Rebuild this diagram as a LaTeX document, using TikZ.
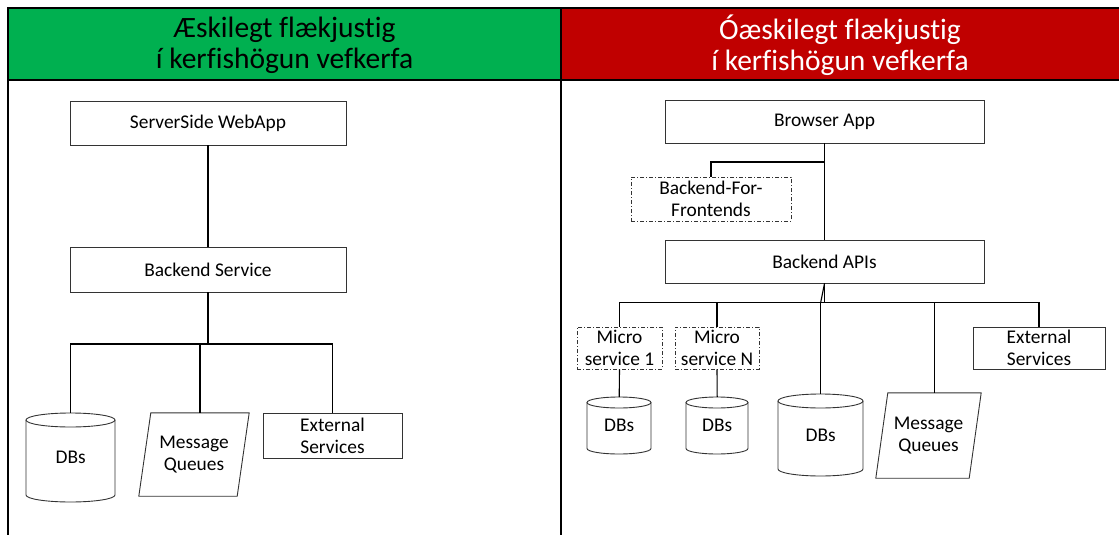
\documentclass[tikz,border=0pt]{standalone}
\usepackage{fontspec}
\setmainfont{Carlito}[Ligatures=NoCommon]
\usetikzlibrary{calc}
\definecolor{hgreen}{HTML}{00B050}
\definecolor{hred}{HTML}{C00000}
\newcommand\boxtextfont{\fontsize{19.4}{22}\selectfont}
\newcommand\bannerfont{\fontsize{29.5}{31}\selectfont}

% database cylinder: name, left, top, width, height, cap radius
\newcommand\dbcyl[6]{%
  \node[plain,minimum width=#4pt,minimum height=#5pt,anchor=north west] (#1) at (#2,#3) {DBs};
  \draw[outline] (#2+#4/2,#3+#6) ellipse [x radius=#4/2,y radius=#6];
  \draw[outline] (#2,#3+#6) -- (#2,#3+#5-#6)
    arc [start angle=180,end angle=0,x radius=#4/2,y radius=#6] -- (#2+#4,#3+#6);
}
% message queue parallelogram: name, centre x, centre y, edge length, height, slant
\newcommand\queue[6]{%
  \node[plain,minimum width=#4pt,minimum height=#5pt] (#1) at (#2,#3) {Message\\Queues};
  \draw[outline] ($(#1.north west)+(#6/2,0)$) -- ($(#1.north east)+(#6/2,0)$)
    -- ($(#1.south east)-(#6/2,0)$) -- ($(#1.south west)-(#6/2,0)$) -- cycle;
}

\begin{document}
\begin{tikzpicture}[x=1pt,y=-1pt,
  frame/.style={line width=2pt,black},
  plain/.style={rectangle,inner sep=0pt,align=center,font=\boxtextfont},
  box/.style={plain,draw=black!80,line width=0.9pt},
  dashbox/.style={box,dash pattern=on 4pt off 2pt on 1pt off 2pt},
  outline/.style={draw=black!80,line width=0.9pt},
  wire/.style={black,line width=1.1pt},
  banner/.style={align=center,font=\bannerfont,inner sep=0pt}]

\useasboundingbox (0,0) rectangle (1119,535);

% header bands and frame
\fill[hgreen] (8,8) rectangle (561,80);
\fill[hred] (561,8) rectangle (1122,80);
\draw[frame] (8,538) -- (8,8) -- (1122,8);
\draw[frame] (8,80) -- (1122,80);
\draw[frame] (561,8) -- (561,538);

\node[banner,text=black] (hl) at (284.5,45) {Æskilegt flækjustig\\í kerfishögun vefkerfa};
\node[banner,text=white] (hr) at (840,45) {Óæskilegt flækjustig\\í kerfishögun vefkerfa};

% ---- left side: server-side web app ----
\node[box,minimum width=276pt,minimum height=44pt] (sw) at (208,123) {ServerSide WebApp};
\node[box,minimum width=276pt,minimum height=45pt] (bs) at (208,269.5) {Backend Service};
\dbcyl{ldb}{26}{413}{89}{89}{7}
\queue{lmq}{194}{454.5}{98}{83}{12}
\node[box,minimum width=139pt,minimum height=45pt] (lext) at (332.5,435.5) {External\\Services};

\coordinate (lbus) at (208,344);
\draw[wire] (sw.south) -- (bs.north);
\draw[wire] (bs.south) -- (lbus);
\draw[wire] (ldb.north) |- (lbus);
\draw[wire] ($(lmq.north)+(6,0)$) |- (lbus);
\draw[wire] (lext.north) |- (lbus);

% ---- right side: browser app ----
\node[box,minimum width=319pt,minimum height=43pt] (ba) at (824.5,121.5) {Browser App};
\node[dashbox,minimum width=160pt,minimum height=44pt] (bff) at (711,199) {Backend-For-\\Frontends};
\node[box,minimum width=319pt,minimum height=43pt] (bapi) at (824.5,261.5) {Backend APIs};
\node[dashbox,minimum width=85pt,minimum height=42pt] (ms1) at (619.5,348) {Micro\\service 1};
\node[dashbox,minimum width=84pt,minimum height=42pt] (msn) at (717,348) {Micro\\service N};
\dbcyl{db1}{587}{397}{64}{57}{5.5}
\dbcyl{dbn}{686}{397}{62}{57}{5.5}
\dbcyl{rdb}{778}{394}{85}{82}{7}
\queue{rmq}{928.5}{435.5}{93}{85}{12}
\node[box,minimum width=132pt,minimum height=42pt] (rext) at (1039,348) {External\\Services};

\coordinate (bffj) at (824.5,162);
\coordinate (rbus) at (824.5,302.5);
\draw[wire] (ba.south) -- (bapi.north);
\draw[wire] (bff.north) |- (bffj);
\draw[wire] (bapi.south) -- (rbus);
\draw[wire] (bapi.south) -- (rdb.north |- rbus);
\draw[wire] (ms1.north) |- (rbus);
\draw[wire] (msn.north) |- (rbus);
\draw[wire] (rdb.north) |- (rbus);
\draw[wire] ($(rmq.north)+(6,0)$) |- (rbus);
\draw[wire] (rext.north) |- (rbus);
\draw[wire] (ms1.south) -- (db1.north);
\draw[wire] (msn.south) -- (dbn.north);
\end{tikzpicture}
\end{document}
